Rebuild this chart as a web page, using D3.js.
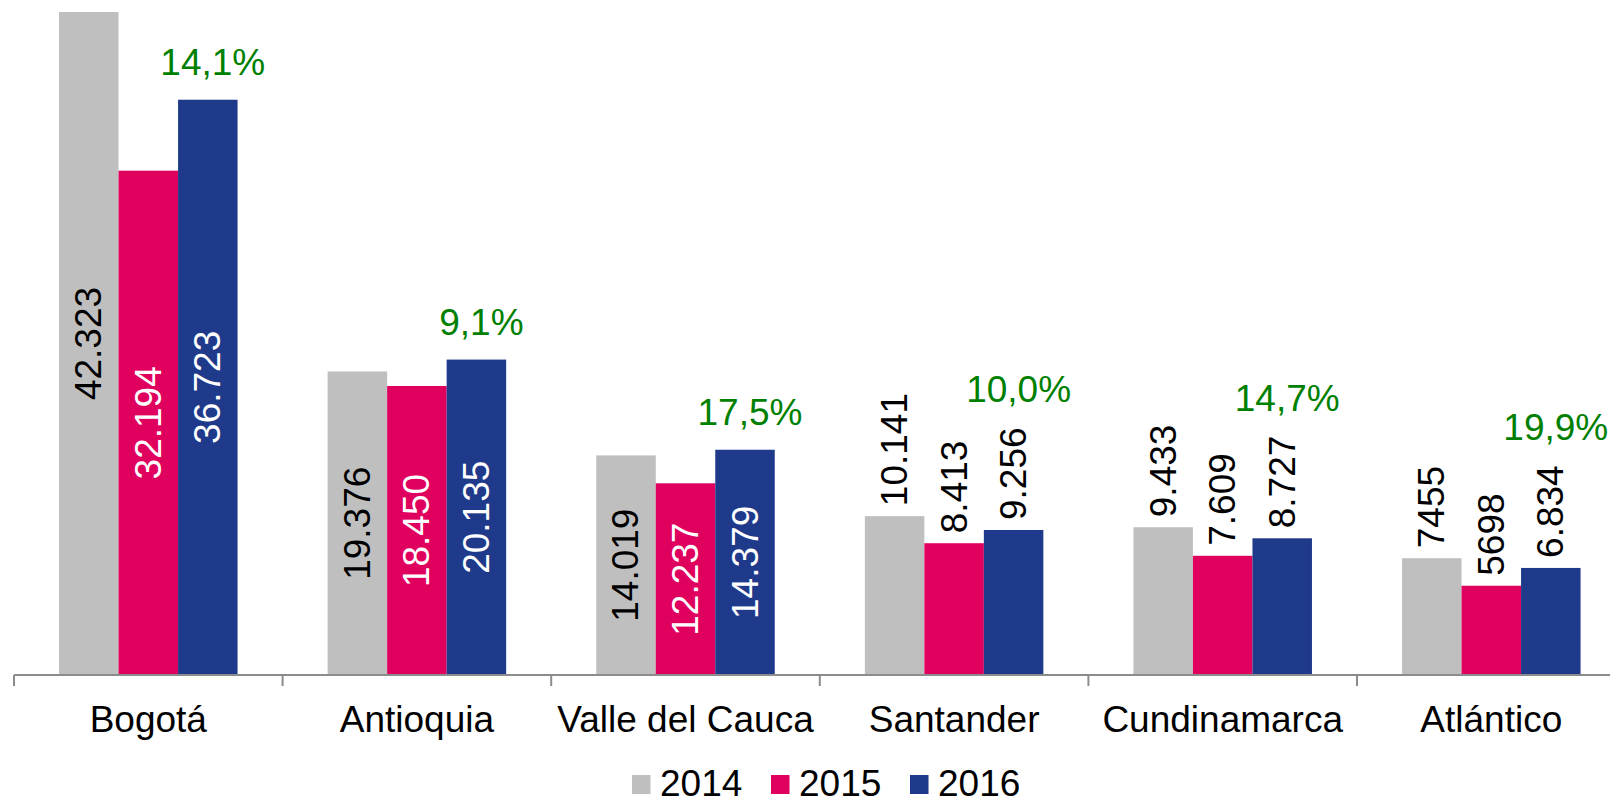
<!DOCTYPE html>
<html>
<head>
<meta charset="utf-8">
<script src="https://cdn.jsdelivr.net/npm/d3@7"></script>
<style>
  body { margin: 0; background: #fff; }
  svg { display: block; font-family: "Liberation Sans", Arial, sans-serif; }
</style>
</head>
<body>
<div id="chart"></div>
<script>
var departamentos = ["Bogotá", "Antioquia", "Valle del Cauca", "Santander", "Cundinamarca", "Atlántico"];
var years = ["2014", "2015", "2016"];
var values2014 = [42323, 19376, 14019, 10141, 9433, 7455];
var values2015 = [32194, 18450, 12237, 8413, 7609, 5698];
var values2016 = [36723, 20135, 14379, 9256, 8727, 6834];
var labels2014 = ["42.323", "19.376", "14.019", "10.141", "9.433", "7455"];
var labels2015 = ["32.194", "18.450", "12.237", "8.413", "7.609", "5698"];
var labels2016 = ["36.723", "20.135", "14.379", "9.256", "8.727", "6.834"];
var growth = ["14,1%", "9,1%", "17,5%", "10,0%", "14,7%", "19,9%"];
var inside = [true, true, true, false, false, false];

var colors = {"2014": "#bfbfbf", "2015": "#e0005e", "2016": "#1f3a8a"};
var insideText = {"2014": "#000", "2015": "#fff", "2016": "#fff"};

var width = 1610, height = 800;
var baseY = 675;
var fontSize = 37;

var svg = d3.select("#chart").append("svg")
  .attr("width", width).attr("height", height);

var x0 = d3.scaleBand().domain(departamentos).range([14, 14 + 6 * 268.6]).padding(0);
var x1 = d3.scaleBand().domain(years).range([0, x0.bandwidth()])
  .paddingInner(0).paddingOuter(0.757);
var y = d3.scaleLinear().domain([0, 43089]).range([baseY, 0]);

var rows = departamentos.map(function(d, i) {
  return {
    cat: d, inside: inside[i], growth: growth[i],
    bars: [
      {year: "2014", v: values2014[i], label: labels2014[i]},
      {year: "2015", v: values2015[i], label: labels2015[i]},
      {year: "2016", v: values2016[i], label: labels2016[i]}
    ]
  };
});

var group = svg.append("g").selectAll("g")
  .data(rows)
  .enter().append("g")
  .attr("transform", function(d) { return "translate(" + x0(d.cat) + ",0)"; });

group.selectAll("rect")
  .data(function(d) { return d.bars; })
  .enter().append("rect")
  .attr("x", function(d) { return x1(d.year); })
  .attr("y", function(d) { return y(d.v); })
  .attr("width", x1.bandwidth())
  .attr("height", function(d) { return baseY - y(d.v); })
  .attr("fill", function(d) { return colors[d.year]; });

// value labels, rotated
var gap = 10;
group.each(function(row) {
  var g = d3.select(this);
  var topOf2016 = y(row.bars[2].v);
  row.bars.forEach(function(b) {
    var cx = x1(b.year) + x1.bandwidth() / 2;
    var t = g.append("text")
      .attr("font-size", fontSize)
      .attr("dominant-baseline", "central")
      .text(b.label);
    if (row.inside) {
      var cy = (y(b.v) + baseY) / 2;
      t.attr("text-anchor", "middle")
        .attr("fill", insideText[b.year])
        .attr("transform", "translate(" + cx + "," + cy + ") rotate(-90)");
    } else {
      var sy = y(b.v) - gap;
      t.attr("text-anchor", "start")
        .attr("fill", "#000")
        .attr("transform", "translate(" + cx + "," + sy + ") rotate(-90)");
      if (b.year === "2016") {
        topOf2016 = sy - t.node().getComputedTextLength();
      }
    }
  });
  g.append("text")
    .attr("x", x1("2016") + x1.bandwidth() / 2 + 5)
    .attr("y", topOf2016 - 25)
    .attr("text-anchor", "middle")
    .attr("font-size", fontSize)
    .attr("fill", "#008000")
    .text(row.growth);
});

// category axis
var axis = svg.append("g")
  .attr("transform", "translate(0," + baseY + ")")
  .call(d3.axisBottom(x0).tickSize(0).tickPadding(31));
axis.select(".domain").remove();
axis.selectAll("text")
  .attr("font-size", fontSize)
  .attr("font-family", "Liberation Sans, Arial, sans-serif")
  .attr("fill", "#000");

svg.append("line")
  .attr("x1", x0.range()[0]).attr("x2", width)
  .attr("y1", baseY).attr("y2", baseY)
  .attr("stroke", "#8c8c8c").attr("stroke-width", 2);

svg.append("g").selectAll("line")
  .data(departamentos)
  .enter().append("line")
  .attr("x1", function(d) { return x0(d); })
  .attr("x2", function(d) { return x0(d); })
  .attr("y1", baseY).attr("y2", baseY + 11)
  .attr("stroke", "#8c8c8c").attr("stroke-width", 2);

// legend
var legend = svg.append("g").selectAll("g")
  .data(years)
  .enter().append("g")
  .attr("transform", function(d, i) { return "translate(" + (632 + i * 139) + ",0)"; });
legend.append("rect")
  .attr("x", 0).attr("y", 775)
  .attr("width", 18.5).attr("height", 19)
  .attr("fill", function(d) { return colors[d]; });
legend.append("text")
  .attr("x", 28).attr("y", 796)
  .attr("font-size", fontSize)
  .attr("fill", "#000")
  .text(function(d) { return d; });
</script>
</body>
</html>
